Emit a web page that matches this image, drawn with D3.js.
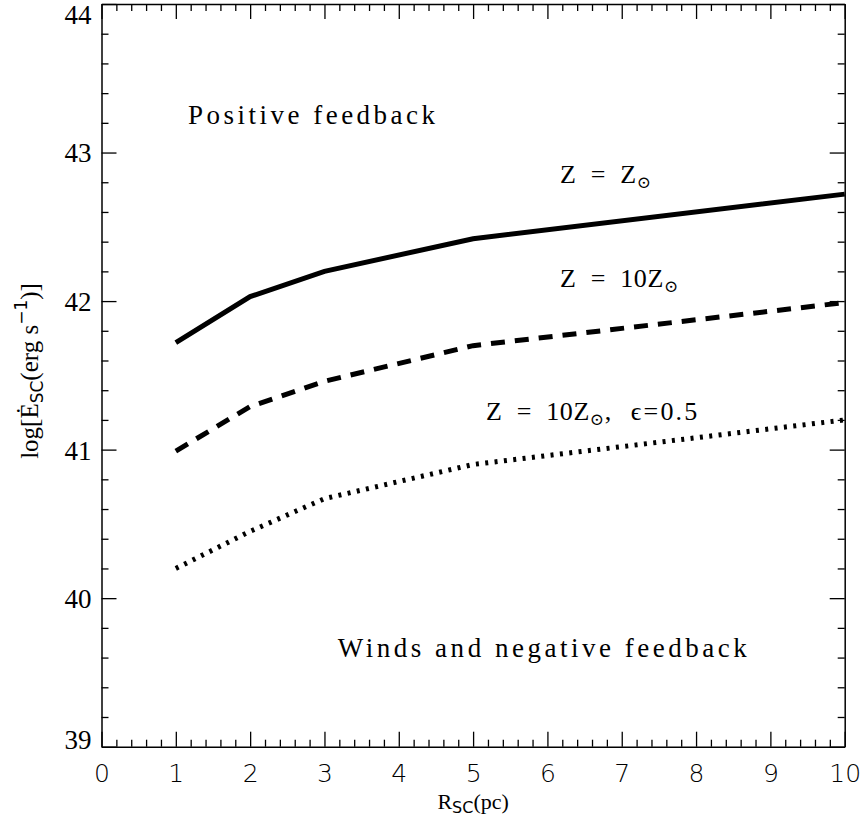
<!DOCTYPE html>
<html>
<head>
<meta charset="utf-8">
<script src="https://cdn.jsdelivr.net/npm/d3@7"></script>
<style>
  body { margin: 0; background: #fff; }
  svg { display: block; }
</style>
</head>
<body>
<svg id="chart"></svg>
<script>
// radius of the cluster (pc)
const radius = [1, 2, 3, 5, 10];
// log of the critical energy injection rate for each case
const solarZ = [41.72, 42.03, 42.20, 42.42, 42.72];
const tenSolarZ = [40.99, 41.29, 41.46, 41.70, 41.99];
const tenSolarZEff = [40.20, 40.45, 40.67, 40.90, 41.20];

const xMajor = [0, 1, 2, 3, 4, 5, 6, 7, 8, 9, 10];
const yMajor = [39, 40, 41, 42, 43, 44];

const SERIF = "'Liberation Serif', 'DejaVu Serif', serif";
const SANS = "'DejaVu Sans', sans-serif";

const width = 861, height = 829;
const margin = { top: 4, right: 16.3, bottom: 82.3, left: 101.5 };

const svg = d3.select("#chart").attr("width", width).attr("height", height);
const g = svg.append("g").attr("transform", `translate(${margin.left},${margin.top})`);
const w = width - margin.left - margin.right;
const h = height - margin.top - margin.bottom;

const x = d3.scaleLinear().domain([0, 10]).range([0, w]);
const y = d3.scaleLinear().domain([39, 44]).range([h, 0]);

const xMinor = d3.range(0, 50).map(i => i * 0.2).filter(v => v % 1 > 0.01);
const yMinor = d3.range(0, 25).map(i => 39 + i * 0.2).filter(v => Math.abs(v - Math.round(v)) > 0.01);

function styleAxis(sel) {
  sel.select(".domain").attr("stroke", "#000").attr("stroke-width", 1.5);
  sel.selectAll(".tick line").attr("stroke", "#000").attr("stroke-width", 1.3);
}
function minorTicks(sel) {
  sel.select(".domain").remove();
  sel.selectAll("line").attr("stroke", "#000").attr("stroke-width", 1.3);
}

// bottom axis with labels
const bottomAxis = g.append("g").attr("transform", `translate(0,${h})`)
  .call(d3.axisBottom(x).tickValues(xMajor).tickSizeInner(-15).tickSizeOuter(0).tickPadding(18).tickFormat(d3.format("d")));
bottomAxis.selectAll("text").style("font-family", SANS).attr("font-weight", 200)
  .attr("font-size", 25).attr("fill", "#000");
styleAxis(bottomAxis);
g.append("g").attr("transform", `translate(0,${h})`)
  .call(d3.axisBottom(x).tickValues(xMinor).tickSize(-7).tickFormat(""))
  .call(minorTicks);

// top axis, ticks only
const topAxis = g.append("g")
  .call(d3.axisTop(x).tickValues(xMajor).tickSizeInner(-15).tickSizeOuter(0).tickFormat(""));
styleAxis(topAxis);
g.append("g")
  .call(d3.axisTop(x).tickValues(xMinor).tickSize(-7).tickFormat(""))
  .call(minorTicks);

// left axis with labels
const leftAxis = g.append("g")
  .call(d3.axisLeft(y).tickValues(yMajor).tickSizeInner(-15).tickSizeOuter(0).tickPadding(10).tickFormat(d3.format("d")));
leftAxis.selectAll("text")
  .style("font-family", SERIF).attr("font-size", 27).attr("fill", "#000")
  .attr("dy", d => d === 44 ? "0.72em" : d === 39 ? "0.05em" : "0.35em");
styleAxis(leftAxis);
g.append("g")
  .call(d3.axisLeft(y).tickValues(yMinor).tickSize(-7).tickFormat(""))
  .call(minorTicks);

// right axis, ticks only
const rightAxis = g.append("g").attr("transform", `translate(${w},0)`)
  .call(d3.axisRight(y).tickValues(yMajor).tickSizeInner(-15).tickSizeOuter(0).tickFormat(""));
styleAxis(rightAxis);
g.append("g").attr("transform", `translate(${w},0)`)
  .call(d3.axisRight(y).tickValues(yMinor).tickSize(-7).tickFormat(""))
  .call(minorTicks);

// curves
const line = d3.line().x(d => x(d[0])).y(d => y(d[1]));
const series = [
  { values: solarZ, dash: null },
  { values: tenSolarZ, dash: "14,10" },
  { values: tenSolarZEff, dash: "3,6.4" }
];
g.selectAll("path.curve")
  .data(series)
  .enter()
  .append("path")
  .attr("class", "curve")
  .attr("d", s => line(radius.map((r, i) => [r, s.values[i]])))
  .attr("fill", "none")
  .attr("stroke", "#000")
  .attr("stroke-width", 5)
  .attr("stroke-dasharray", s => s.dash);

// annotations (data coords: x start, baseline y)
function label(xv, yv, len) {
  return g.append("text")
    .style("font-family", SERIF)
    .attr("x", x(xv)).attr("y", y(yv))
    .attr("font-size", 27).attr("fill", "#000")
    .attr("textLength", len).attr("lengthAdjust", "spacing")
    .style("white-space", "pre");
}
label(1.164, 43.19, 247).text("Positive feedback");
label(3.18, 39.606, 409).text("Winds and negative feedback");

function zLabel(xv, yv, pre, post) {
  const t = g.append("text")
    .style("font-family", SERIF)
    .attr("x", x(xv)).attr("y", y(yv))
    .attr("font-size", 26).attr("fill", "#000")
    .attr("letter-spacing", 0.6)
    .style("white-space", "pre");
  t.append("tspan").text(pre);
  t.append("tspan").attr("font-size", 17).attr("dy", 5).text("\u2299");
  if (post) t.append("tspan").attr("dy", -5).attr("letter-spacing", 2.2).text(post);
  return t;
}
zLabel(6.17, 42.795, "Z  =  Z");
zLabel(6.17, 42.097, "Z  =  10Z");
zLabel(5.174, 41.20, "Z  =  10Z", ",  \u03F5=0.5");

// y axis title
const yt = svg.append("text")
  .style("font-family", SERIF)
  .attr("transform", `translate(38,371) rotate(-90)`)
  .attr("text-anchor", "middle")
  .attr("font-size", 25).attr("fill", "#000");
yt.append("tspan").text("log[\u0116");
yt.append("tspan").attr("font-size", 17).attr("dy", 5).style("font-family", SANS).text("SC");
yt.append("tspan").attr("dy", -5).text("(erg s");
yt.append("tspan").attr("font-size", 17).attr("dy", -11).style("font-family", SANS).text("\u22121");
yt.append("tspan").attr("dy", 11).text(")]");

// x axis title
const xt = svg.append("text")
  .style("font-family", SERIF)
  .attr("x", margin.left + x(5)).attr("y", 809)
  .attr("text-anchor", "middle")
  .attr("font-size", 22).attr("fill", "#000");
xt.append("tspan").text("R");
xt.append("tspan").attr("font-size", 16).attr("dy", 4).style("font-family", SANS).text("SC");
xt.append("tspan").attr("dy", -4).text("(pc)");
</script>
</body>
</html>
